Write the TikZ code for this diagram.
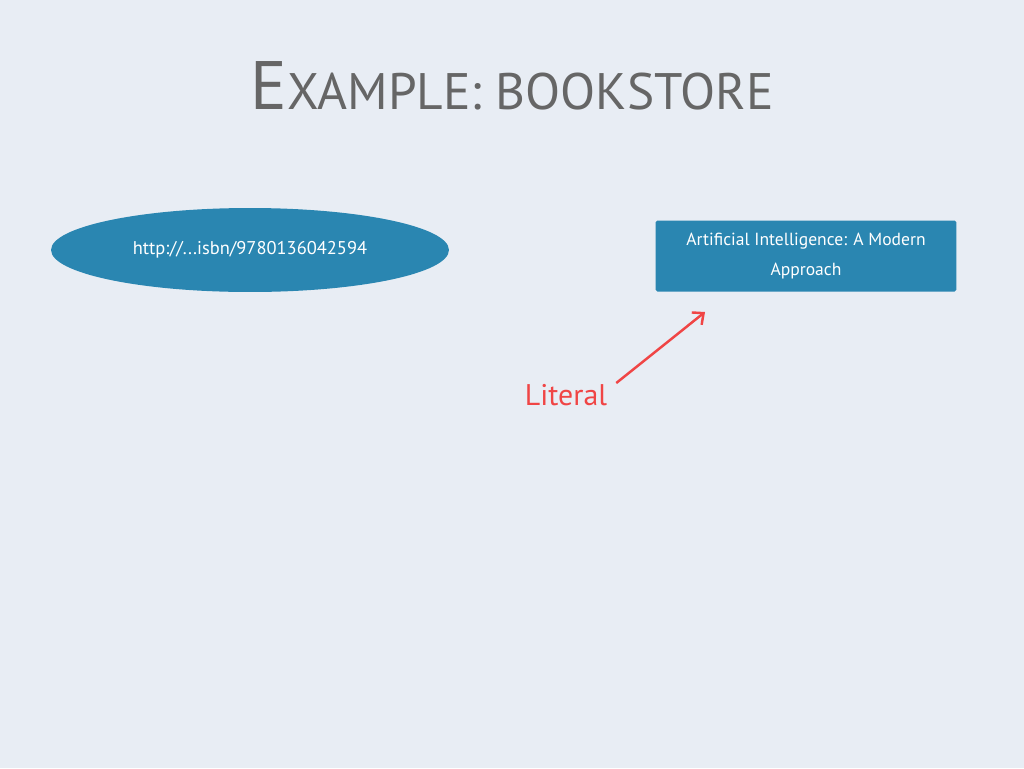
\documentclass[tikz,border=0pt]{standalone}
\usepackage{fontspec}
\setmainfont{PT Sans}
\definecolor{bgcol}{HTML}{E8EDF4}
\definecolor{nodeblue}{HTML}{2A86B1}
\definecolor{titlegray}{HTML}{666666}
\definecolor{litred}{HTML}{F04545}
\usetikzlibrary{shapes.geometric,arrows.meta}
\tikzset{
  resource/.style={ellipse, fill=nodeblue, text=white, inner sep=0pt,
    minimum width=7.96cm, minimum height=1.68cm, font=\fontsize{10.5}{12}\selectfont},
  literalbox/.style={rectangle, fill=nodeblue, text=white, rounded corners=1pt,
    minimum width=6.02cm, minimum height=1.42cm, align=center,
    font=\fontsize{10}{17}\selectfont},
}
\begin{document}
\begin{tikzpicture}[x=0.02cm,y=-0.02cm]
      \fill[bgcol] (0,0) rectangle (1024,768);
      \useasboundingbox (0,0) rectangle (1024,768);

      \node[text=titlegray] (title) at (512,86)
        {\fontsize{39}{39}\selectfont E\fontsize{29.2}{29.2}\selectfont XAMPLE: BOOKSTORE};

      \node[resource]   (isbn) at (250,250) {http://...isbn/9780136042594};
      \node[literalbox] (book) at (806,256) {Artificial Intelligence: A Modern\\Approach};

      \node[text=litred, font=\fontsize{17}{17}\selectfont] (literal) at (566,395) {Literal};
      \coordinate (tip) at (705,312);

      \draw[litred, line width=1.4pt, -{Straight Barb[length=5pt,width=9pt]}] (literal.north east) ++(3,5) -- (tip);
    \end{tikzpicture}
\end{document}
